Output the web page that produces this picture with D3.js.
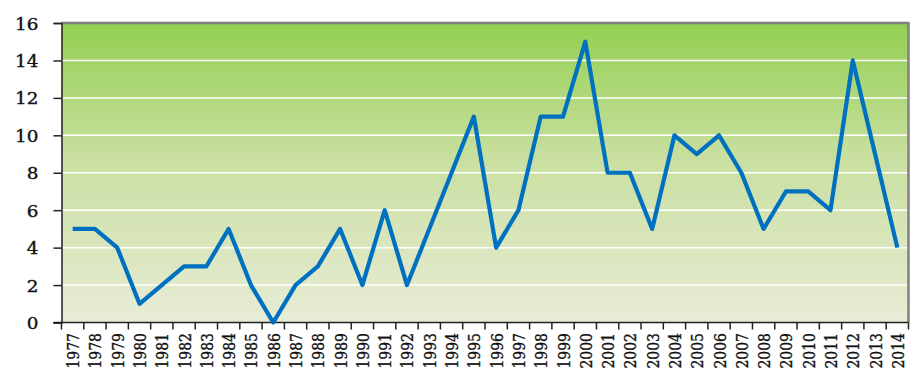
<!DOCTYPE html>
<html><head><meta charset="utf-8">
<script src="https://cdn.jsdelivr.net/npm/d3@7/dist/d3.min.js"></script>
<style>html,body{margin:0;padding:0;background:#fff;}svg{display:block;}</style>
</head><body>
<svg id="c" width="916" height="383"></svg>
<script>
const years = ["1977","1978","1979","1980","1981","1982","1983","1984","1985","1986","1987","1988","1989","1990","1991","1992","1993","1994","1995","1996","1997","1998","1999","2000","2001","2002","2003","2004","2005","2006","2007","2008","2009","2010","2011","2012","2013","2014"];
const counts = [5,5,4,1,2,3,3,5,2,0,2,3,5,2,6,2,5,8,11,4,6,11,11,15,8,8,5,10,9,10,8,5,7,7,6,14,9,4];
const yTicks = [0,2,4,6,8,10,12,14,16];

const svg = d3.select("#c");
const L = 61.5, R = 908.5, T = 23, B = 322.5;
const x = d3.scaleBand().domain(years).range([L, R]).padding(0);
const y = d3.scaleLinear().domain([0, 16]).range([B, T]);
const FONT = "'DejaVu Serif', serif";

const defs = svg.append("defs");
const g = defs.append("linearGradient").attr("id","bg").attr("x1",0).attr("y1",0).attr("x2",0).attr("y2",1);
g.append("stop").attr("offset","0%").attr("stop-color","#92d050");
g.append("stop").attr("offset","45%").attr("stop-color","#c9dfa0");
g.append("stop").attr("offset","100%").attr("stop-color","#e8ecd6");

svg.append("rect").attr("x",L).attr("y",T).attr("width",R-L).attr("height",B-T).attr("fill","url(#bg)");

// gridlines
svg.append("g").selectAll("line").data(yTicks.filter(d=>d>0 && d<16)).join("line")
  .attr("x1",L).attr("x2",R).attr("y1",d=>y(d)).attr("y2",d=>y(d))
  .attr("stroke","#ffffff").attr("stroke-width",1.5);

// top and right border
svg.append("line").attr("x1",L).attr("x2",R+1).attr("y1",T).attr("y2",T).attr("stroke","#808080").attr("stroke-width",2.5);
svg.append("line").attr("x1",R).attr("x2",R).attr("y1",T).attr("y2",B).attr("stroke","#808080").attr("stroke-width",2.5);

// y axis
const yAxis = d3.axisLeft(y).tickValues(yTicks).tickSize(8).tickFormat(d3.format("d"));
const ya = svg.append("g").attr("transform",`translate(${L},0)`).call(yAxis);
ya.select(".domain").attr("stroke","#222").attr("stroke-width",1.5);
ya.selectAll(".tick line").attr("stroke","#222").attr("stroke-width",1.5);
ya.selectAll(".tick text")
  .attr("x",null).attr("dy",null)
  .attr("transform",`translate(-23,6) scale(1.15,1)`)
  .attr("text-anchor","end")
  .attr("font-family",FONT).attr("font-size","16px").attr("fill","#111")
  .attr("stroke","#111").attr("stroke-width",0.35);

// x axis: ticks at band boundaries
const xa = svg.append("g").attr("transform",`translate(0,${B})`);
xa.append("line").attr("x1",L-8).attr("x2",R).attr("y1",0).attr("y2",0).attr("stroke","#222").attr("stroke-width",1.5);
const bounds = years.map(d=>x(d)).concat([R]);
xa.selectAll("line.tk").data(bounds).join("line").attr("class","tk")
  .attr("x1",d=>d).attr("x2",d=>d).attr("y1",0).attr("y2",7).attr("stroke","#222").attr("stroke-width",1.5);
xa.selectAll("text").data(years).join("text")
  .attr("transform",d=>`translate(${x(d)+x.bandwidth()/2+6.5},${10.5}) scale(1.15,1) rotate(-90)`)
  .attr("text-anchor","end")
  .attr("font-family",FONT).attr("font-size","14px").attr("fill","#111")
  .attr("stroke","#111").attr("stroke-width",0.3)
  .text(d=>d);

// line
const line = d3.line().x((d,i)=>x(years[i])+x.bandwidth()/2).y(d=>y(d));
svg.append("path").datum(counts).attr("d",line).attr("fill","none")
  .attr("stroke","#0070c0").attr("stroke-width",4.2).attr("stroke-linejoin","round").attr("stroke-linecap","butt");
</script>
</body></html>
